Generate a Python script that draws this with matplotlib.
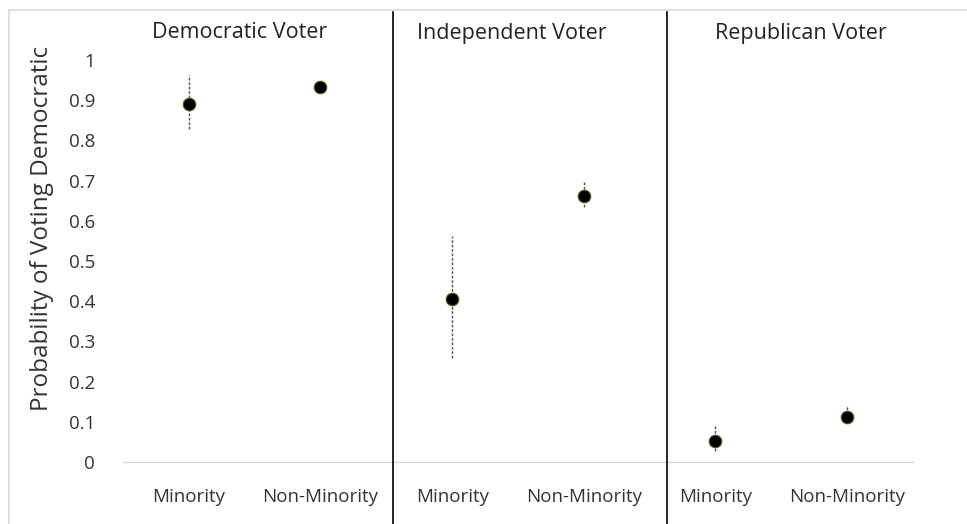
import numpy as np
import matplotlib
matplotlib.use("Agg")
import matplotlib.pyplot as plt
from matplotlib.lines import Line2D

plt.rcParams['font.family'] = ['Open Sans', 'DejaVu Sans']

# data
groups = ["Democratic Voter", "Independent Voter", "Republican Voter"]
categories = ["Minority", "Non-Minority", "Minority", "Non-Minority", "Minority", "Non-Minority"]
prob = [0.890, 0.932, 0.405, 0.662, 0.053, 0.113]
upper = [0.962, 0.950, 0.562, 0.700, 0.090, 0.142]
lower = [0.828, 0.918, 0.259, 0.635, 0.027, 0.097]
yticks = [0, 0.1, 0.2, 0.3, 0.4, 0.5, 0.6, 0.7, 0.8, 0.9, 1]

W, H = 967, 524
fig = plt.figure(figsize=(W / 100, H / 100), dpi=100)
ax = fig.add_axes([123 / W, 1 - 462 / H, (913 - 123) / W, (462 - 60) / H])

x = np.arange(len(categories))

# error bars: thin dashed
for xi, lo, hi in zip(x, lower, upper):
    ax.plot([xi, xi], [lo, hi], color='#555555', lw=1.0, ls=(0, (2, 1.2)), zorder=2)
ax.plot(x, prob, 'o', ms=9, color='black', mec='#4a5a10', mew=0.8, zorder=3, ls='none')

ax.set_xlim(-0.5, len(categories) - 0.5)
ax.set_ylim(0, 1)
ax.set_yticks(yticks)
ax.set_yticklabels([f"{t:g}" for t in yticks], fontsize=13.5, color='#333333')
ax.set_xticks(x)
ax.set_xticklabels(categories, fontsize=13.5, color='#333333')
ax.tick_params(axis='both', length=0)
ax.tick_params(axis='y', pad=20)
ax.tick_params(axis='x', pad=19)
for s in ['top', 'right', 'left']:
    ax.spines[s].set_visible(False)
ax.spines['bottom'].set_color('#d9d9d9')
ax.spines['bottom'].set_linewidth(1.0)

fig.text(42 / W, 1 - 228 / H, "Probability of Voting Democratic", rotation=90,
         ha='center', va='center', fontsize=17.5, color='#333333')

# group titles
for g, px in zip(groups, [240, 512, 801]):
    fig.text(px / W, 1 - 33 / H, g, ha='center', va='center',
             fontsize=15.5, color='#222222')

# separators
for px in [393, 667]:
    fig.add_artist(Line2D([px / W, px / W], [0, 1 - 12 / H], color='black', lw=1.2))

# outer border
fig.add_artist(Line2D([8.5 / W, 8.5 / W], [0, 1 - 9.5 / H], color='#d9d9d9', lw=1.2))
fig.add_artist(Line2D([8.5 / W, 1], [1 - 9.5 / H, 1 - 9.5 / H], color='#d9d9d9', lw=1.2))

fig.savefig("out.png", dpi=100)
